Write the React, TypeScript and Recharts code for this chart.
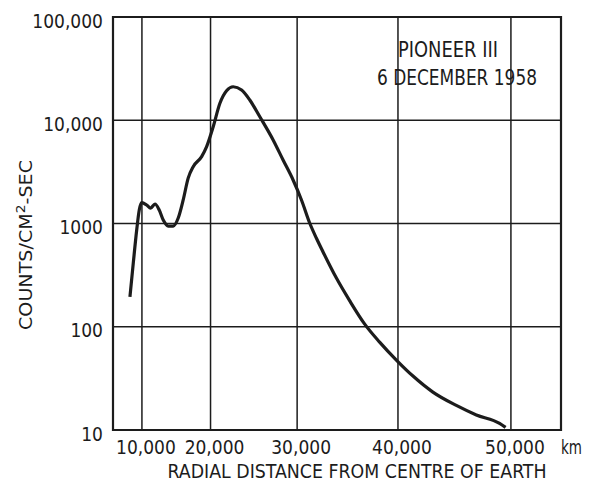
import { CartesianGrid, Label, Line, LineChart, ReferenceArea, XAxis, YAxis } from "recharts";

// radial distance (km) and counts
const distanceKm = [
  7800, 8440, 9070, 9530, 9950, 10810, 11470, 12170, 12840, 13460, 14210, 14940, 15660,
  16360, 17050, 17730, 18850, 19500, 20340, 21180, 22000, 22800, 23800, 24760, 25910,
  27400, 28490, 29570, 30460, 31330, 32020, 32700, 34050, 35380, 36840, 38270, 39850,
  41390, 43200, 45290, 47040, 49040, 49550
];
const countsPerCm2Sec = [
  195, 415, 865, 1350, 1590, 1510, 1410, 1545, 1350, 1080, 945, 945, 1130,
  1690, 2750, 3550, 4440, 5550, 8660, 14600, 19300, 21100, 19600, 15700, 10800,
  6440, 4120, 2640, 1690, 1005, 719, 530, 296, 178, 106, 71, 47.6,
  33.3, 23.3, 17.3, 14, 11.6, 10.6
];

const xTicksKm = [10000, 20000, 30000, 40000, 50000];
const xDomainKm = [4050, 54150];
const yTicks = [10, 100, 1000, 10000, 100000];
const yDomain = [10, 100000];

// the printed distance axis is stretched, not linear
const AXIS_POWER = 1.45;
const warp = (km: number) => Math.pow(km / 10000, AXIS_POWER);

const data = distanceKm.map((km, i) => ({ x: warp(km), counts: countsPerCm2Sec[i] }));

const INK = "#1c1c1c";
const FONT = "'DejaVu Sans Condensed', 'DejaVu Sans', sans-serif";

function XTick({ x, y, payload }: any) {
  const km = xTicksKm.find((k) => Math.abs(warp(k) - payload.value) < 1e-6) ?? 0;
  const isLast = km === xTicksKm[xTicksKm.length - 1];
  return (
    <g fontFamily={FONT} fontSize={19} fill={INK}>
      <text x={x + 4} y={y + 24} textAnchor="middle">
        {km.toLocaleString("en-US")}
      </text>
      {isLast && (
        <text x={x + 50} y={y + 24} textAnchor="start" textLength={21} lengthAdjust="spacingAndGlyphs">
          km
        </text>
      )}
    </g>
  );
}

function YTick({ x, y, payload }: any) {
  const v = payload.value as number;
  const label = v >= 10000 ? v.toLocaleString("en-US") : String(v);
  return (
    <text x={x} y={y + 10.5} textAnchor="end" fontFamily={FONT} fontSize={19} fill={INK}>
      {label}
    </text>
  );
}

export default function App() {
  return (
    <div style={{ position: "absolute", left: 8, top: 8, width: 581, height: 474, background: "#fff" }}>
      <LineChart width={581} height={474} data={data} margin={{ top: 9, right: 28, bottom: 0, left: 0 }}>
        <CartesianGrid stroke={INK} strokeWidth={1.5} />
        <XAxis
          dataKey="x"
          type="number"
          domain={[warp(xDomainKm[0]), warp(xDomainKm[1])]}
          ticks={xTicksKm.map(warp)}
          interval={0}
          allowDataOverflow
          height={52}
          axisLine={false}
          tickLine={false}
          tickSize={0}
          tickMargin={0}
          tick={<XTick />}
        >
          <Label
            content={({ viewBox }: any) => (
              <text
                x={viewBox.x + viewBox.width / 2 + 20}
                y={viewBox.y + 48}
                textAnchor="middle"
                fontFamily={FONT}
                fontSize={20}
                fill={INK}
                textLength={379}
                lengthAdjust="spacingAndGlyphs"
              >
                RADIAL DISTANCE FROM CENTRE OF EARTH
              </text>
            )}
          />
        </XAxis>
        <YAxis
          dataKey="counts"
          scale="log"
          domain={yDomain}
          ticks={yTicks}
          interval={0}
          allowDataOverflow
          width={105}
          axisLine={false}
          tickLine={false}
          tickSize={0}
          tickMargin={10}
          tick={<YTick />}
        >
          <Label
            content={({ viewBox }: any) => (
              <text
                transform={`translate(${viewBox.x + 24}, ${viewBox.y + 228}) rotate(-90)`}
                textAnchor="middle"
                fontFamily={FONT}
                fontSize={18}
                fill={INK}
                textLength={170}
                lengthAdjust="spacingAndGlyphs"
              >
                COUNTS/CM
                <tspan dy={-7} fontSize={13}>2</tspan>
                <tspan dy={7}>-SEC</tspan>
              </text>
            )}
          />
        </YAxis>
        <ReferenceArea
          x1={warp(xDomainKm[0])}
          x2={warp(xDomainKm[1])}
          y1={yDomain[0]}
          y2={yDomain[1]}
          fill="none"
          fillOpacity={0}
          stroke={INK}
          strokeWidth={2.2}
        />
        <Line
          type="monotone"
          dataKey="counts"
          stroke={INK}
          strokeWidth={3.2}
          dot={false}
          isAnimationActive={false}
        />
      </LineChart>
      <svg
        width={581}
        height={474}
        style={{ position: "absolute", left: 0, top: 0, pointerEvents: "none" }}
      >
        <g fontFamily={FONT} fontSize={21} fill={INK} textAnchor="middle">
          <text x={440} y={49} textLength={100} lengthAdjust="spacingAndGlyphs">
            PIONEER III
          </text>
          <text x={449} y={77} textLength={160} lengthAdjust="spacingAndGlyphs">
            6 DECEMBER 1958
          </text>
        </g>
      </svg>
    </div>
  );
}
